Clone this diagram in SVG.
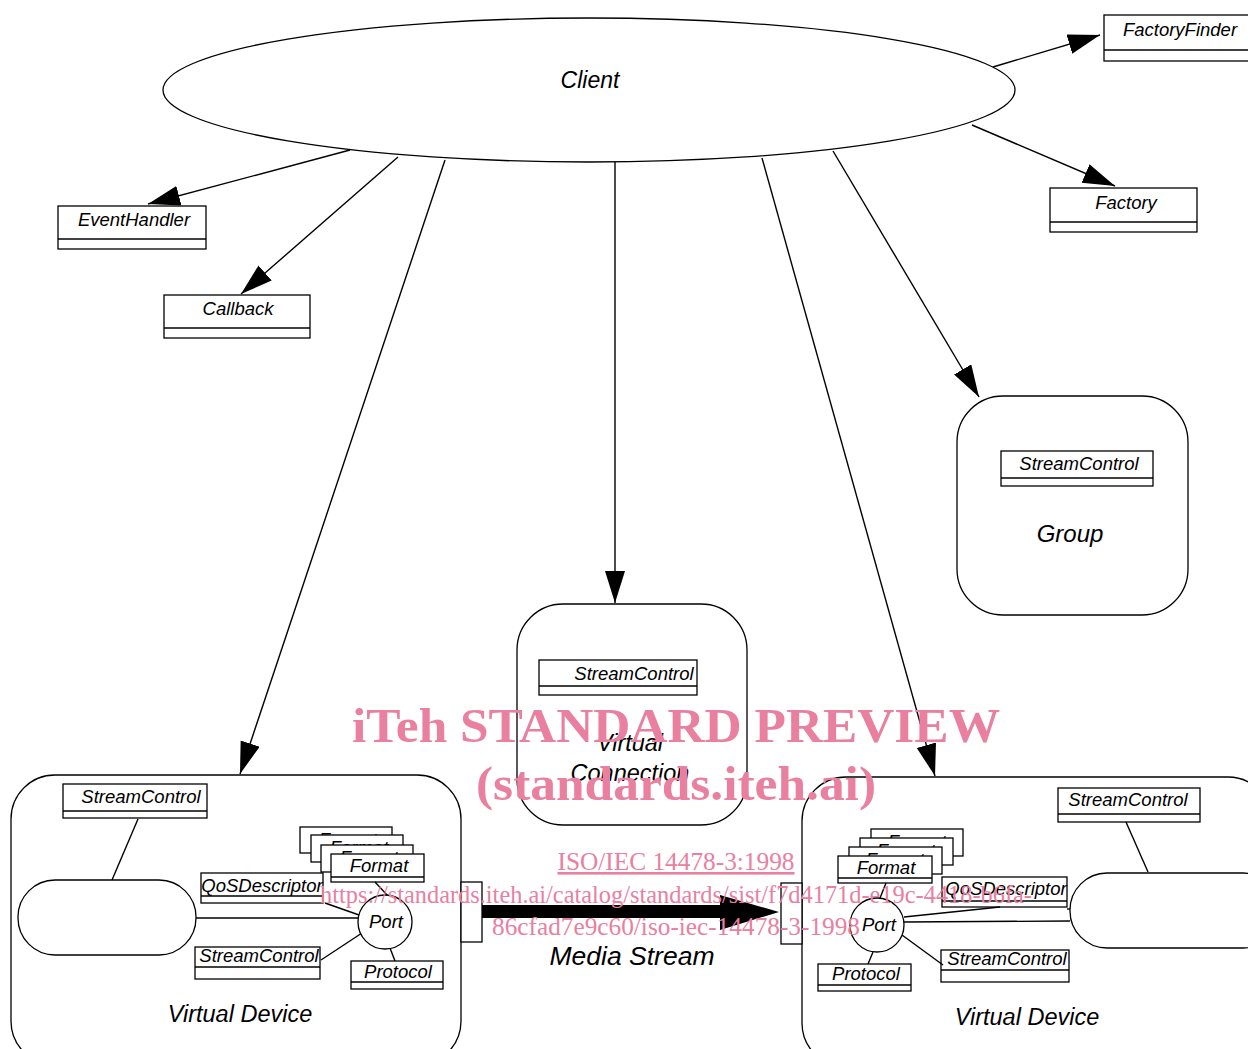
<svg xmlns="http://www.w3.org/2000/svg" width="1248" height="1049" viewBox="0 0 1248 1049">
<style>
.ln{stroke:#000;stroke-width:1.4;fill:none}
.bx{stroke:#000;stroke-width:1.3;fill:#fff}
.t{font-family:"Liberation Sans",Arial,sans-serif;font-style:italic;fill:#000;text-anchor:middle}
.s{font-size:18.5px}
.b{font-size:23.5px}
.wm{font-family:"Liberation Serif","Times New Roman",serif;fill:#e9809f;text-anchor:middle}
</style>
<defs>
<marker id="ah" markerUnits="userSpaceOnUse" markerWidth="34" markerHeight="22" refX="32" refY="10" orient="auto">
<path d="M0,0 L32,10 L0,20 z" fill="#000"/>
</marker>
</defs>
<rect width="1248" height="1049" fill="#fff"/>

<g id="connectors">
<line class="ln" x1="993" y1="67" x2="1100" y2="35" marker-end="url(#ah)"/>
<line class="ln" x1="972" y1="125" x2="1115" y2="186" marker-end="url(#ah)"/>
<line class="ln" x1="350" y1="150" x2="148" y2="204" marker-end="url(#ah)"/>
<line class="ln" x1="398" y1="157" x2="241" y2="294" marker-end="url(#ah)"/>
<line class="ln" x1="445" y1="160" x2="240" y2="774" marker-end="url(#ah)"/>
<line class="ln" x1="615" y1="162" x2="615" y2="603" marker-end="url(#ah)"/>
<line class="ln" x1="762" y1="158" x2="935" y2="776" marker-end="url(#ah)"/>
<line class="ln" x1="833" y1="151" x2="979" y2="397" marker-end="url(#ah)"/>
</g>

<g id="client">
<ellipse cx="589" cy="90" rx="426" ry="72" class="bx"/>
<text x="590" y="88" class="t" font-size="23">Client</text>
</g>

<g id="factoryfinder">
<rect x="1104" y="15" width="150" height="46" class="bx"/>
<line class="ln" x1="1104" y1="50" x2="1248" y2="50"/>
<text x="1180" y="36" class="t s">FactoryFinder</text>
</g>

<g id="factory">
<rect x="1050" y="188" width="147" height="44" class="bx"/>
<line class="ln" x1="1050" y1="222" x2="1197" y2="222"/>
<text x="1126" y="209" class="t s">Factory</text>
</g>

<g id="eventhandler">
<rect x="58" y="206" width="148" height="43" class="bx"/>
<line class="ln" x1="58" y1="239" x2="206" y2="239"/>
<text x="134" y="226" class="t s">EventHandler</text>
</g>

<g id="callback">
<rect x="164" y="295" width="146" height="43" class="bx"/>
<line class="ln" x1="164" y1="328" x2="310" y2="328"/>
<text x="238" y="315" class="t s">Callback</text>
</g>

<g id="group">
<rect x="957" y="396" width="231" height="219" rx="46" class="bx"/>
<rect x="1001" y="451" width="152" height="35" class="bx"/>
<line class="ln" x1="1001" y1="478" x2="1153" y2="478"/>
<text x="1079" y="470" class="t s">StreamControl</text>
<text x="1070" y="542" class="t" font-size="24">Group</text>
</g>

<g id="virtual-connection">
<rect x="517" y="604" width="230" height="221" rx="46" class="bx"/>
<rect x="539" y="660" width="158" height="35" class="bx"/>
<line class="ln" x1="539" y1="686" x2="697" y2="686"/>
<text x="634" y="680" class="t s">StreamControl</text>
<text x="630" y="751" class="t b">Virtual</text>
<text x="630" y="781" class="t b">Connection</text>
</g>

<g id="virtual-device-left">
<rect x="11" y="775" width="450" height="290" rx="44" class="bx"/>
<rect x="63" y="784" width="144" height="34" class="bx"/>
<line class="ln" x1="63" y1="811" x2="207" y2="811"/>
<text x="141" y="803" class="t s">StreamControl</text>
<line class="ln" x1="138" y1="819" x2="112" y2="880"/>
<rect x="18" y="880" width="178" height="75" rx="37" class="bx"/>
<line class="ln" x1="196" y1="918" x2="358" y2="918"/>
<rect x="300" y="827" width="92" height="26" class="bx"/>
<text x="348" y="846" class="t s">Format</text>
<rect x="311" y="835" width="92" height="27" class="bx"/>
<text x="359" y="854" class="t s">Format</text>
<rect x="321" y="845" width="92" height="27" class="bx"/>
<text x="369" y="864" class="t s">Format</text>
<rect x="331" y="854" width="93" height="28" class="bx"/>
<line class="ln" x1="331" y1="877" x2="424" y2="877"/>
<text x="379" y="872" class="t s">Format</text>
<line class="ln" x1="375" y1="882" x2="388" y2="896"/>
<rect x="201" y="873" width="122" height="30" class="bx"/>
<line class="ln" x1="201" y1="896" x2="323" y2="896"/>
<text x="262" y="892" class="t s">QoSDescriptor</text>
<line class="ln" x1="325" y1="903" x2="359" y2="915"/>
<rect x="195" y="947" width="125" height="32" class="bx"/>
<line class="ln" x1="195" y1="967" x2="320" y2="967"/>
<text x="259" y="962" class="t s">StreamControl</text>
<line class="ln" x1="321" y1="960" x2="362" y2="933"/>
<rect x="351" y="961" width="92" height="28" class="bx"/>
<line class="ln" x1="351" y1="982" x2="443" y2="982"/>
<text x="398" y="978" class="t s">Protocol</text>
<line class="ln" x1="390" y1="948" x2="395" y2="961"/>
<circle cx="385" cy="922" r="27" class="bx"/>
<text x="386" y="928" class="t s">Port</text>
<text x="240" y="1022" class="t b">Virtual Device</text>
</g>

<g id="virtual-device-right">
<rect x="802" y="777" width="470" height="290" rx="44" class="bx"/>
<rect x="1058" y="788" width="142" height="34" class="bx"/>
<line class="ln" x1="1058" y1="814" x2="1200" y2="814"/>
<text x="1128" y="806" class="t s">StreamControl</text>
<line class="ln" x1="1126" y1="822" x2="1148" y2="872"/>
<rect x="1070" y="873" width="210" height="75" rx="37" class="bx"/>
<rect x="871" y="829" width="92" height="27" class="bx"/>
<text x="917" y="848" class="t s">Format</text>
<rect x="860" y="838" width="93" height="27" class="bx"/>
<text x="906" y="857" class="t s">Format</text>
<rect x="849" y="847" width="93" height="27" class="bx"/>
<text x="895" y="866" class="t s">Format</text>
<rect x="838" y="856" width="94" height="27" class="bx"/>
<line class="ln" x1="838" y1="878" x2="932" y2="878"/>
<text x="886" y="874" class="t s">Format</text>
<line class="ln" x1="886" y1="883" x2="880" y2="898"/>
<rect x="942" y="877" width="125" height="30" class="bx"/>
<line class="ln" x1="942" y1="901" x2="1067" y2="901"/>
<text x="1006" y="895" class="t s">QoSDescriptor</text>
<line class="ln" x1="904" y1="917" x2="1000" y2="907"/>
<line class="ln" x1="1067" y1="909" x2="1070" y2="909"/>
<line class="ln" x1="904" y1="922" x2="1070" y2="921"/>
<rect x="941" y="950" width="128" height="32" class="bx"/>
<line class="ln" x1="941" y1="970" x2="1069" y2="970"/>
<text x="1007" y="965" class="t s">StreamControl</text>
<line class="ln" x1="902" y1="935" x2="943" y2="965"/>
<rect x="818" y="964" width="93" height="27" class="bx"/>
<line class="ln" x1="818" y1="985" x2="911" y2="985"/>
<text x="866" y="980" class="t s">Protocol</text>
<line class="ln" x1="873" y1="952" x2="868" y2="964"/>
<circle cx="877" cy="925" r="27" class="bx"/>
<text x="879" y="931" class="t s">Port</text>
<text x="1027" y="1025" class="t b">Virtual Device</text>
</g>

<g id="media-stream">
<rect x="461" y="882" width="21" height="60" class="bx"/>
<rect x="781" y="883" width="21" height="61" class="bx"/>
<path d="M482,905 L720,905 L720,895 L779,912 L720,930 L720,918 L482,918 z" fill="#000"/>
<text x="632" y="965" class="t" font-size="26.5">Media Stream</text>
</g>

<g id="watermark">
<text x="676" y="742" class="wm" font-size="48" font-weight="bold" textLength="648" lengthAdjust="spacingAndGlyphs">iTeh STANDARD PREVIEW</text>
<text x="676" y="800" class="wm" font-size="48" font-weight="bold" textLength="400" lengthAdjust="spacingAndGlyphs">(standards.iteh.ai)</text>
<text x="676" y="870" class="wm" font-size="26" text-decoration="underline" textLength="237" lengthAdjust="spacingAndGlyphs">ISO/IEC 14478-3:1998</text>
<text x="676" y="903" class="wm" font-size="26" textLength="712" lengthAdjust="spacingAndGlyphs">https://standards.iteh.ai/catalog/standards/sist/f7d4171d-e19c-4418-b6fa-</text>
<text x="676" y="935" class="wm" font-size="26" textLength="368" lengthAdjust="spacingAndGlyphs">86cfad7e9c60/iso-iec-14478-3-1998</text>
</g>
</svg>
